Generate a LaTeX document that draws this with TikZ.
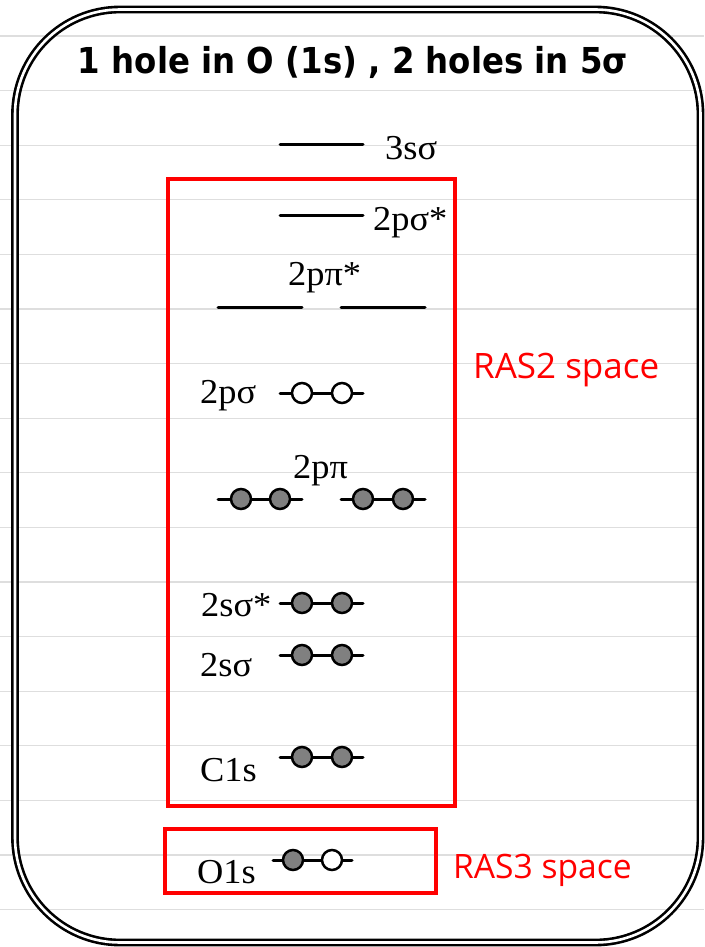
\documentclass[tikz,border=0pt]{standalone}
\usepackage{fontspec}
\usepackage{graphicx}
\setmainfont{Liberation Serif}
\newfontfamily\labfont[FakeStretch=1.04]{Liberation Serif}
\newfontfamily\rasfont{Open Sans}
\newfontfamily\titlefont{DejaVu Sans}
\begin{document}
\begin{tikzpicture}[x=1pt,y=-1pt,
  gridline/.style={draw=black!13, line width=1.3pt},
  level/.style={line width=3pt, line cap=round},
  occ/.style={circle, draw=black, fill=black!50, line width=2.5pt, inner sep=0pt, minimum size=20pt},
  emp/.style={occ, fill=white},
  lab/.style={font=\labfont\fontsize{35}{40}\selectfont, anchor=base west, inner sep=0pt},
  raslab/.style={font=\rasfont\fontsize{35}{40}\selectfont, text=red, anchor=base west, inner sep=0pt},
  rasbox/.style={draw=red, line width=4pt},
  outer/.style={draw=black, line width=2.6pt, double=white, double distance=2.6pt, rounded corners=105pt}]
\useasboundingbox (0,0) rectangle (704,947);
\fill[white] (0,0) rectangle (704,947);
% ruled background
\foreach \k in {0,...,16}{
  \draw[gridline] (0,{36+54.6*\k}) -- (704,{36+54.6*\k});
}
% outer frame
\draw[outer] (15,9.5) rectangle (700.5,942.5);
% title
\node[anchor=base, inner sep=0pt] (title) at (353,74)
  {\resizebox{550pt}{\height}{\titlefont\bfseries\fontsize{35.7}{40}\selectfont 1 hole in O (1s) , 2 holes in 5σ}};
% RAS boxes
\draw[rasbox] (168,179) rectangle (455,806);
\draw[rasbox] (165,829) rectangle (436,893);
\node[raslab] (ras2) at (473,378) {RAS2 space};
\node[raslab, font=\rasfont\fontsize{33.6}{40}\selectfont] (ras3) at (453,878) {RAS3 space};
% empty levels
\draw[level] (280,144) -- (363,144);
\node[lab] (l3s) at (385,159) {3sσ};
\draw[level] (280,215) -- (363,215);
\node[lab] (l2psx) at (373,230) {2pσ*};
\draw[level] (218,307) -- (302,307);
\draw[level] (341,307) -- (425,307);
\node[lab] (l2ppx) at (288,285) {2pπ*};
% 2p sigma (empty pair)
\draw[level] (280,393) -- (363,393);
\node[emp] (a1) at (302,393) {};
\node[emp] (a2) at (342,393) {};
\node[lab] (l2ps) at (200,403) {2pσ};
% 2p pi
\draw[level] (218,499) -- (302,499);
\draw[level] (341,499) -- (425,499);
\node[occ] (b1) at (241,499) {};
\node[occ] (b2) at (280,499) {};
\node[occ] (b3) at (363,499) {};
\node[occ] (b4) at (403,499) {};
\node[lab] (l2pp) at (293,478) {2pπ};
% 2s sigma*
\draw[level] (280,603) -- (363,603);
\node[occ] (c1) at (302,603) {};
\node[occ] (c2) at (342,603) {};
\node[lab] (l2ssx) at (201,616) {2sσ*};
% 2s sigma
\draw[level] (280,655) -- (363,655);
\node[occ] (d1) at (302,655) {};
\node[occ] (d2) at (342,655) {};
\node[lab] (l2ss) at (200,676) {2sσ};
% C1s
\draw[level] (280,757) -- (363,757);
\node[occ] (e1) at (302,757) {};
\node[occ] (e2) at (342,757) {};
\node[lab] (lc1s) at (200,781) {C1s};
% O1s
\draw[level] (273,860) -- (352,860);
\node[occ] (f1) at (293,860) {};
\node[emp] (f2) at (332,860) {};
\node[lab] (lo1s) at (197,883) {O1s};
\end{tikzpicture}
\end{document}
